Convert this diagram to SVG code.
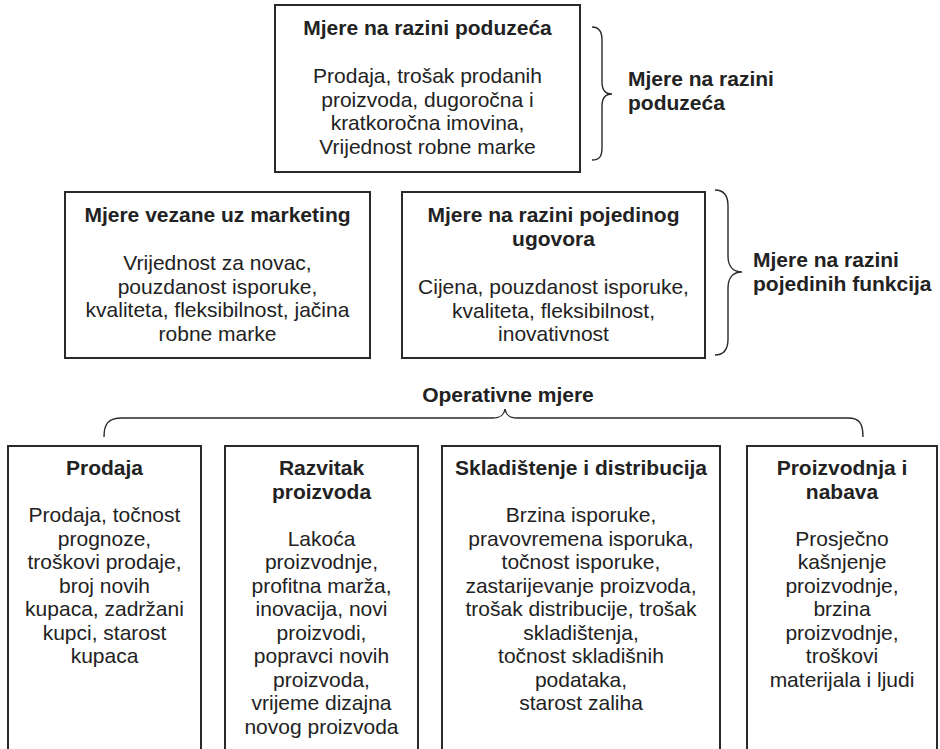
<svg xmlns="http://www.w3.org/2000/svg" width="940" height="749" viewBox="0 0 940 749">
<style>
.box{fill:#fff;stroke:#2a2a2a;stroke-width:2}
.br{fill:none;stroke:#2a2a2a;stroke-width:1.4}
text{font-family:"Liberation Sans",Arial,sans-serif;font-size:21px;fill:#222}
.t{font-weight:bold}
.c{text-anchor:middle}
</style>
<rect width="940" height="749" fill="#fff"/>
<g id="connectors">
<path class="br" d="M592,27 C599,27 602,31 602,40 L602,82 C602,90 605,94 612,94 C605,94 602,98 602,106 L602,148 C602,157 599,160 592,160"/>
<path class="br" d="M715,190 C724,190 728,196 728,206 L728,256 C728,266 733,272 742,272 C733,272 728,278 728,288 L728,339 C728,349 724,355 715,355"/>
<path class="br" d="M104,437 C104,424 108,418 122,418 L493,418 C501,418 504,415 505,409 C506,415 509,418 517,418 L848,418 C860,418 863,424 863,437"/>
</g>
<g id="top">
<rect class="box" x="275" y="5" width="305" height="167"/>
<text class="t c" x="427.5" y="35">Mjere na razini poduzeća</text>
<text class="c" x="427.5" y="83">Prodaja, trošak prodanih</text>
<text class="c" x="427.5" y="107">proizvoda, dugoročna i</text>
<text class="c" x="427.5" y="130">kratkoročna imovina,</text>
<text class="c" x="427.5" y="154">Vrijednost robne marke</text>
</g>
<g id="label-poduzeca">
<text class="t" x="628" y="86">Mjere na razini</text>
<text class="t" x="628" y="110">poduzeća</text>
</g>
<g id="marketing">
<rect class="box" x="65" y="192" width="305" height="166"/>
<text class="t c" x="217.5" y="222">Mjere vezane uz marketing</text>
<text class="c" x="217.5" y="270">Vrijednost za novac,</text>
<text class="c" x="217.5" y="294">pouzdanost isporuke,</text>
<text class="c" x="217.5" y="317">kvaliteta, fleksibilnost, jačina</text>
<text class="c" x="217.5" y="341">robne marke</text>
</g>
<g id="ugovor">
<rect class="box" x="402" y="192" width="303" height="166"/>
<text class="t c" x="553.5" y="222">Mjere na razini pojedinog</text>
<text class="t c" x="553.5" y="246">ugovora</text>
<text class="c" x="553.5" y="294">Cijena, pouzdanost isporuke,</text>
<text class="c" x="553.5" y="318">kvaliteta, fleksibilnost,</text>
<text class="c" x="553.5" y="341">inovativnost</text>
</g>
<g id="label-funkcija">
<text class="t" x="753" y="267">Mjere na razini</text>
<text class="t" x="753" y="291">pojedinih funkcija</text>
</g>
<g id="label-operativne">
<text class="t c" x="508" y="402">Operativne mjere</text>
</g>
<g id="prodaja">
<rect class="box" x="8" y="446" width="193" height="320"/>
<text class="t c" x="104.5" y="475">Prodaja</text>
<text class="c" x="104.5" y="522">Prodaja, točnost</text>
<text class="c" x="104.5" y="545.5">prognoze,</text>
<text class="c" x="104.5" y="569">troškovi prodaje,</text>
<text class="c" x="104.5" y="592.5">broj novih</text>
<text class="c" x="104.5" y="616">kupaca, zadržani</text>
<text class="c" x="104.5" y="639.5">kupci, starost</text>
<text class="c" x="104.5" y="663">kupaca</text>
</g>
<g id="razvitak">
<rect class="box" x="225" y="446" width="193" height="320"/>
<text class="t c" x="321.5" y="475">Razvitak</text>
<text class="t c" x="321.5" y="499">proizvoda</text>
<text class="c" x="321.5" y="545.5">Lakoća</text>
<text class="c" x="321.5" y="569">proizvodnje,</text>
<text class="c" x="321.5" y="592.5">profitna marža,</text>
<text class="c" x="321.5" y="616">inovacija, novi</text>
<text class="c" x="321.5" y="639.5">proizvodi,</text>
<text class="c" x="321.5" y="663">popravci novih</text>
<text class="c" x="321.5" y="686.5">proizvoda,</text>
<text class="c" x="321.5" y="710">vrijeme dizajna</text>
<text class="c" x="321.5" y="733.5">novog proizvoda</text>
</g>
<g id="skladistenje">
<rect class="box" x="442" y="446" width="278" height="320"/>
<text class="t c" x="581" y="475">Skladištenje i distribucija</text>
<text class="c" x="581" y="522">Brzina isporuke,</text>
<text class="c" x="581" y="545.5">pravovremena isporuka,</text>
<text class="c" x="581" y="569">točnost isporuke,</text>
<text class="c" x="581" y="592.5">zastarijevanje proizvoda,</text>
<text class="c" x="581" y="616">trošak distribucije, trošak</text>
<text class="c" x="581" y="639.5">skladištenja,</text>
<text class="c" x="581" y="663">točnost skladišnih</text>
<text class="c" x="581" y="686.5">podataka,</text>
<text class="c" x="581" y="710">starost zaliha</text>
</g>
<g id="proizvodnja">
<rect class="box" x="747" y="446" width="190" height="320"/>
<text class="t c" x="842" y="475">Proizvodnja i</text>
<text class="t c" x="842" y="499">nabava</text>
<text class="c" x="842" y="545.5">Prosječno</text>
<text class="c" x="842" y="569">kašnjenje</text>
<text class="c" x="842" y="592.5">proizvodnje,</text>
<text class="c" x="842" y="616">brzina</text>
<text class="c" x="842" y="639.5">proizvodnje,</text>
<text class="c" x="842" y="663">troškovi</text>
<text class="c" x="842" y="686.5">materijala i ljudi</text>
</g>
</svg>
